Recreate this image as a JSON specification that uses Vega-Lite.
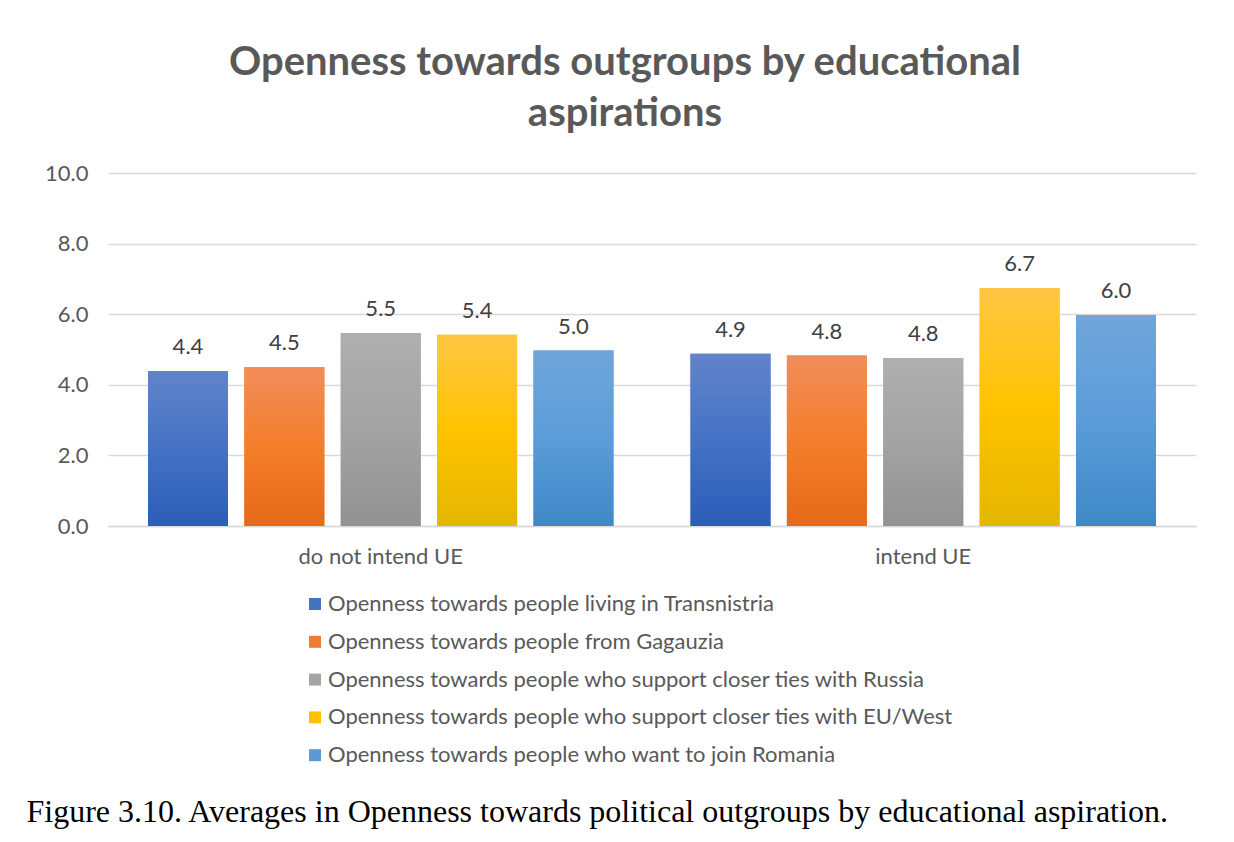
{
  "$schema": "https://vega.github.io/schema/vega-lite/v6.json",
  "autosize": "none",
  "width": 1088,
  "height": 353,
  "padding": {"left": 108, "top": 173, "right": 38, "bottom": 316},
  "background": "white",
  "title": {
    "text": ["Openness towards outgroups by educational", "aspirations"],
    "font": "Lato",
    "fontSize": 40,
    "fontWeight": "bold",
    "color": "#595959",
    "anchor": "middle",
    "dx": -27,
    "offset": 28,
    "lineHeight": 51
  },
  "config": {
    "font": "Lato",
    "view": {"stroke": null},
    "axis": {"labelFont": "Lato"},
    "legend": {"labelFont": "Lato"}
  },
  "data": {
    "values": [
      {"group": "do not intend UE", "series": "Openness towards people living in Transnistria", "value": 4.39},
      {"group": "do not intend UE", "series": "Openness towards people from Gagauzia", "value": 4.5},
      {"group": "do not intend UE", "series": "Openness towards people who support closer ties with Russia", "value": 5.47},
      {"group": "do not intend UE", "series": "Openness towards people who support closer ties with EU/West", "value": 5.42},
      {"group": "do not intend UE", "series": "Openness towards people who want to join Romania", "value": 4.97},
      {"group": "intend UE", "series": "Openness towards people living in Transnistria", "value": 4.88},
      {"group": "intend UE", "series": "Openness towards people from Gagauzia", "value": 4.83},
      {"group": "intend UE", "series": "Openness towards people who support closer ties with Russia", "value": 4.76},
      {"group": "intend UE", "series": "Openness towards people who support closer ties with EU/West", "value": 6.74},
      {"group": "intend UE", "series": "Openness towards people who want to join Romania", "value": 5.98}
    ]
  },
  "encoding": {
    "x": {
      "field": "group",
      "type": "nominal",
      "sort": ["do not intend UE", "intend UE"],
      "scale": {"paddingInner": 0.142, "paddingOuter": 0.0737},
      "axis": {
        "title": "Figure 3.10. Averages in Openness towards political outgroups by educational aspiration.",
        "titleFont": "Liberation Serif",
        "titleFontSize": 32,
        "titleFontWeight": "normal",
        "titleColor": "#000000",
        "titleAlign": "left",
        "titleAnchor": "start",
        "titleBaseline": "alphabetic",
        "titleX": -82,
        "titleY": 295,
        "labelAngle": 0,
        "labelFontSize": 22,
        "labelColor": "#595959",
        "labelPadding": 20,
        "ticks": false,
        "domain": true,
        "domainColor": "#d9d9d9",
        "domainWidth": 1.5
      }
    },
    "xOffset": {
      "field": "series",
      "type": "nominal",
      "scale": {
        "domain": [
          "Openness towards people living in Transnistria",
          "Openness towards people from Gagauzia",
          "Openness towards people who support closer ties with Russia",
          "Openness towards people who support closer ties with EU/West",
          "Openness towards people who want to join Romania"
        ],
        "paddingInner": 0.17,
        "paddingOuter": 0
      }
    },
    "y": {
      "field": "value",
      "type": "quantitative",
      "scale": {"domain": [0, 10]},
      "axis": {
        "title": null,
        "values": [0, 2, 4, 6, 8, 10],
        "format": ".1f",
        "labelFontSize": 22,
        "labelColor": "#595959",
        "labelPadding": 20,
        "ticks": false,
        "domain": false,
        "gridColor": "#d9d9d9",
        "gridWidth": 1.5
      }
    }
  },
  "layer": [
    {
      "mark": {"type": "bar"},
      "encoding": {
        "color": {
          "field": "series",
          "type": "nominal",
          "scale": {
            "domain": [
              "Openness towards people living in Transnistria",
              "Openness towards people from Gagauzia",
              "Openness towards people who support closer ties with Russia",
              "Openness towards people who support closer ties with EU/West",
              "Openness towards people who want to join Romania"
            ],
            "range": ["#4472C4", "#ED7D31", "#A5A5A5", "#FFC000", "#5B9BD5"]
          },
          "legend": {
            "title": null,
            "orient": "none",
            "legendX": 196,
            "legendY": 420,
            "direction": "vertical",
            "symbolType": "square",
            "symbolSize": 144,
            "symbolStrokeWidth": 0,
            "symbolOpacity": 1,
            "labelFontSize": 22,
            "labelColor": "#595959",
            "labelOffset": 2,
            "labelLimit": 900,
            "rowPadding": 15.8,
            "padding": 0
          }
        }
      }
    },
    {
      "transform": [{"filter": "datum.series === 'Openness towards people living in Transnistria'"}],
      "mark": {"type": "bar", "fill": {"gradient": "linear", "x1": 0, "y1": 0, "x2": 0, "y2": 1, "stops": [{"offset": 0, "color": "#6184CA"}, {"offset": 0.5, "color": "#4472C4"}, {"offset": 1, "color": "#2C5DB8"}]}}
    },
    {
      "transform": [{"filter": "datum.series === 'Openness towards people from Gagauzia'"}],
      "mark": {"type": "bar", "fill": {"gradient": "linear", "x1": 0, "y1": 0, "x2": 0, "y2": 1, "stops": [{"offset": 0, "color": "#F18D5B"}, {"offset": 0.5, "color": "#F47E2B"}, {"offset": 1, "color": "#E46918"}]}}
    },
    {
      "transform": [{"filter": "datum.series === 'Openness towards people who support closer ties with Russia'"}],
      "mark": {"type": "bar", "fill": {"gradient": "linear", "x1": 0, "y1": 0, "x2": 0, "y2": 1, "stops": [{"offset": 0, "color": "#AFAFAF"}, {"offset": 0.5, "color": "#A3A3A3"}, {"offset": 1, "color": "#929292"}]}}
    },
    {
      "transform": [{"filter": "datum.series === 'Openness towards people who support closer ties with EU/West'"}],
      "mark": {"type": "bar", "fill": {"gradient": "linear", "x1": 0, "y1": 0, "x2": 0, "y2": 1, "stops": [{"offset": 0, "color": "#FFC644"}, {"offset": 0.5, "color": "#FFC300"}, {"offset": 1, "color": "#E4B600"}]}}
    },
    {
      "transform": [{"filter": "datum.series === 'Openness towards people who want to join Romania'"}],
      "mark": {"type": "bar", "fill": {"gradient": "linear", "x1": 0, "y1": 0, "x2": 0, "y2": 1, "stops": [{"offset": 0, "color": "#70A6DA"}, {"offset": 0.5, "color": "#5B9CDA"}, {"offset": 1, "color": "#3F88C6"}]}}
    },
    {
      "mark": {"type": "text", "baseline": "bottom", "dy": -12, "fontSize": 22, "color": "#404040", "font": "Lato"},
      "encoding": {
        "text": {"field": "value", "type": "quantitative", "format": ".1f"}
      }
    }
  ]
}
